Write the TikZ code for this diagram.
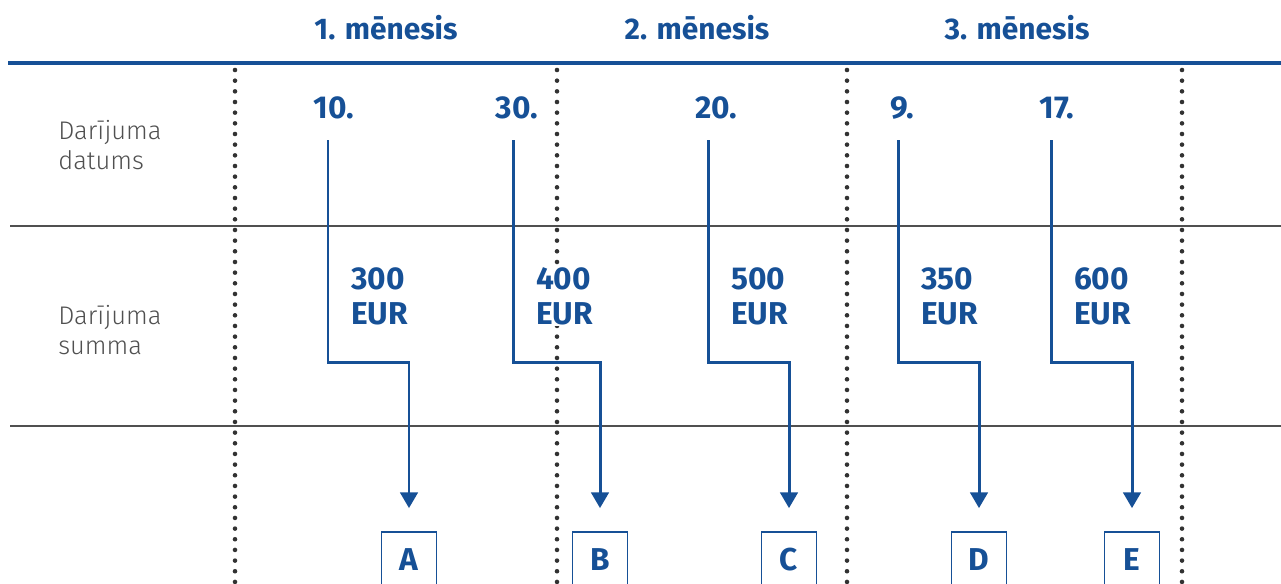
\documentclass[tikz,border=0pt]{standalone}
\usepackage{fontspec}
\setmainfont{Fira Sans}
\newfontfamily\lightfont{Fira Sans Light}
\usetikzlibrary{arrows.meta}
\definecolor{navy}{RGB}{22,80,150}
\definecolor{greytext}{RGB}{80,80,80}
\definecolor{dotgrey}{RGB}{50,50,50}
\tikzset{
  month/.style={text=navy,font=\fontsize{17}{20}\selectfont\bfseries,inner sep=0pt},
  date/.style={text=navy,font=\fontsize{18}{21}\selectfont\bfseries,inner sep=0pt},
  amount/.style={text=navy,font=\fontsize{18}{19.8}\selectfont\bfseries,align=left,anchor=west,fill=white,inner sep=1pt},
  rowlabel/.style={text=greytext,font=\lightfont\fontsize{14.5}{17.5}\selectfont,align=left,anchor=west,inner sep=0pt},
  letterbox/.style={draw=navy,line width=1pt,text=navy,font=\fontsize{18}{21}\selectfont\bfseries,minimum width=55*0.02cm,minimum height=56*0.02cm,inner sep=0pt},
  flow/.style={draw=navy,line width=1.7pt,-{Triangle[width=10pt,length=9pt]}},
  monthsep/.style={draw=dotgrey,line width=2.6pt,line cap=round,dash pattern=on 0pt off 6.07pt},
}
\begin{document}
\begin{tikzpicture}[x=0.02cm,y=-0.02cm]
\useasboundingbox (0,0) rectangle (1281,583);

% rules
\draw[navy,line width=2.3pt] (8,63) -- (1281,63);
\draw[greytext,line width=0.85pt] (10,226) -- (1281,226);
\draw[greytext,line width=0.85pt] (10,426) -- (1281,426);

% month separators
\foreach \sx in {235,557,847,1182}
  \draw[monthsep] (\sx,70) -- (\sx,583);

% headers
\node[month] (m1) at (386,28) {1. mēnesis};
\node[month] (m2) at (697,28) {2. mēnesis};
\node[month] (m3) at (1017,28) {3. mēnesis};

\node[rowlabel] (rdate) at (58,145) {Darījuma\\datums};
\node[rowlabel] (rsum) at (58,330) {Darījuma\\summa};

% transactions
\foreach \n/\tx/\dx/\bx/\dt/\am/\lt in {a/334/328/409/10./300/A,
    b/517/513/600/30./400/B, c/716/708/789/20./500/C,
    d/902/898/979/9./350/D, e/1057/1051/1132/17./600/E}{
  \node[date] (\n-date) at (\tx,108) {\dt};
  \coordinate (\n-top) at (\dx,140);
  \coordinate (\n-bend) at (\dx,362);
  \node[letterbox] (\n-box) at (\bx,560) {\lt};
  \draw[flow] (\n-top) -- (\n-bend) -| ([yshift=23*0.02cm]\n-box.north);
  \node[amount] (\n-sum) at (\dx+21,296) {\am\\EUR};
}

\end{tikzpicture}
\end{document}
